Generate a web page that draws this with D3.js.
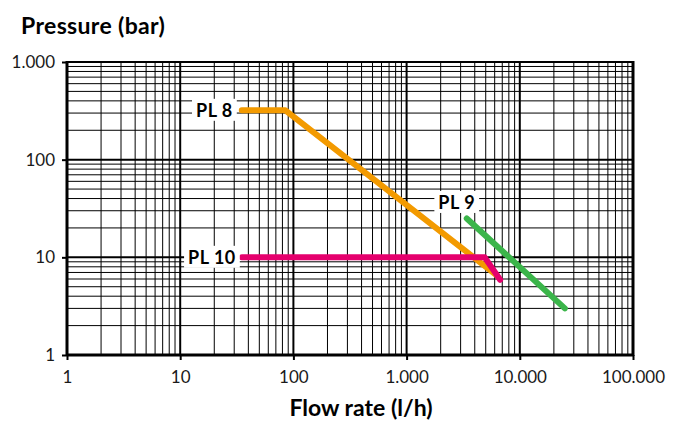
<!DOCTYPE html>
<html>
<head>
<meta charset="utf-8">
<script src="https://cdn.jsdelivr.net/npm/d3@7"></script>
<style>
  body { margin: 0; background: #fff; }
  text { font-family: Lato, "Open Sans", sans-serif; }
</style>
</head>
<body>
<svg id="chart" width="681" height="424"></svg>
<script>
// Chart values
const xTicks = [1, 10, 100, 1000, 10000, 100000];
const xTickLabels = ["1", "10", "100", "1.000", "10.000", "100.000"];
const yTicks = [1, 10, 100, 1000];
const yTickLabels = ["1", "10", "100", "1.000"];

const pl8Flow = [35, 85, 6300];
const pl8Pressure = [320, 320, 6.5];
const pl9Flow = [3400, 25000];
const pl9Pressure = [25, 3];
const pl10Flow = [35, 4900, 6700];
const pl10Pressure = [10, 10, 5.9];

const series = [
    { name: "PL 8", flow: pl8Flow, pressure: pl8Pressure, color: "#f39a00" },
    { name: "PL 10", flow: pl10Flow, pressure: pl10Pressure, color: "#e5006d" },
    { name: "PL 9", flow: pl9Flow, pressure: pl9Pressure, color: "#3bb54a" }
];

const margin = { left: 67, right: 48, top: 62, bottom: 69 };
const width = 681, height = 424;

const svg = d3.select("#chart");

const x = d3.scaleLog()
    .domain([1, 100000])
    .range([margin.left, width - margin.right]);
const y = d3.scaleLog()
    .domain([1, 1000])
    .range([height - margin.bottom, margin.top]);

// Minor + major grid values
const xGrid = [];
for (let d = 1; d < 100000; d *= 10) for (let m = 1; m < 10; m++) xGrid.push(d * m);
xGrid.push(100000);
const yGrid = [];
for (let d = 1; d < 1000; d *= 10) for (let m = 1; m < 10; m++) yGrid.push(d * m);
yGrid.push(1000);

const grid = svg.append("g");
grid.selectAll("line.vx")
    .data(xGrid)
    .enter()
    .append("line")
    .attr("x1", d => x(d)).attr("x2", d => x(d))
    .attr("y1", y(1)).attr("y2", y(1000))
    .attr("stroke", "#000")
    .attr("stroke-width", d => xTicks.includes(d) ? 2 : 1);
grid.selectAll("line.hy")
    .data(yGrid)
    .enter()
    .append("line")
    .attr("y1", d => y(d)).attr("y2", d => y(d))
    .attr("x1", x(1)).attr("x2", x(100000))
    .attr("stroke", "#000")
    .attr("stroke-width", d => yTicks.includes(d) ? 2 : 1);

// Outer frame (left, bottom, right thicker)
svg.append("line").attr("x1", x(1)).attr("x2", x(1)).attr("y1", y(1000) - 1).attr("y2", y(1) + 1)
    .attr("stroke", "#000").attr("stroke-width", 3);
svg.append("line").attr("x1", x(100000)).attr("x2", x(100000)).attr("y1", y(1000) - 1).attr("y2", y(1) + 1)
    .attr("stroke", "#000").attr("stroke-width", 3);
svg.append("line").attr("x1", x(1)).attr("x2", x(100000)).attr("y1", y(1)).attr("y2", y(1))
    .attr("stroke", "#000").attr("stroke-width", 3);

// Axes with ticks and labels
const xAxis = d3.axisBottom(x)
    .tickValues(xTicks)
    .tickSize(5)
    .tickPadding(11)
    .tickFormat((d, i) => xTickLabels[i]);
svg.append("g")
    .attr("transform", `translate(0,${y(1)})`)
    .call(xAxis)
    .call(g => g.select(".domain").remove())
    .call(g => g.selectAll(".tick line").attr("stroke-width", 2))
    .call(g => g.selectAll(".tick text").style("font-size", "17px").attr("fill", "#1a1a1a"));

const yAxis = d3.axisLeft(y)
    .tickValues(yTicks)
    .tickSize(5)
    .tickPadding(7)
    .tickFormat((d, i) => yTickLabels[i]);
svg.append("g")
    .attr("transform", `translate(${x(1)},0)`)
    .call(yAxis)
    .call(g => g.select(".domain").remove())
    .call(g => g.selectAll(".tick line").attr("stroke-width", 2))
    .call(g => g.selectAll(".tick text").style("font-size", "17px").attr("fill", "#1a1a1a"));

// Series lines
const line = d3.line()
    .x(d => x(d[0]))
    .y(d => y(d[1]));

series.forEach(s => {
    const pts = s.flow.map((f, i) => [f, s.pressure[i]]);
    svg.append("path")
        .datum(pts)
        .attr("d", line)
        .attr("fill", "none")
        .attr("stroke", s.color)
        .attr("stroke-width", 6)
        .attr("stroke-linecap", "round")
        .attr("stroke-linejoin", "round");
});

// Series labels with white boxes
const labels = [
    { text: "PL 8", xv: pl8Flow[0], yv: pl8Pressure[0], dx: -9, anchor: "end" },
    { text: "PL 10", xv: pl10Flow[0], yv: pl10Pressure[0], dx: -6, anchor: "end" },
    { text: "PL 9", xv: pl9Flow[0], yv: pl9Pressure[0], dx: -10, dy: -16, anchor: "middle" }
];
labels.forEach(l => {
    const g = svg.append("g");
    const t = g.append("text")
        .attr("x", x(l.xv) + l.dx)
        .attr("y", y(l.yv) + (l.dy || 0))
        .attr("dy", "0.36em")
        .attr("text-anchor", l.anchor)
        .style("font-size", "18px")
        .style("font-weight", "bold")
        .style("letter-spacing", "0.5px")
        .attr("fill", "#000")
        .text(l.text);
    const b = t.node().getBBox();
    g.insert("rect", "text")
        .attr("x", b.x - 4).attr("y", b.y)
        .attr("width", b.width + 8).attr("height", b.height)
        .attr("fill", "#fff");
});

// Axis titles
svg.append("text")
    .attr("x", 21).attr("y", 34)
    .style("font-size", "23px")
    .style("font-weight", "bold")
    .style("letter-spacing", "0.35px")
    .text("Pressure (bar)");
svg.append("text")
    .attr("x", 361).attr("y", 416)
    .attr("text-anchor", "middle")
    .style("font-size", "23px")
    .style("font-weight", "bold")
    .text("Flow rate (l/h)");
</script>
</body>
</html>
